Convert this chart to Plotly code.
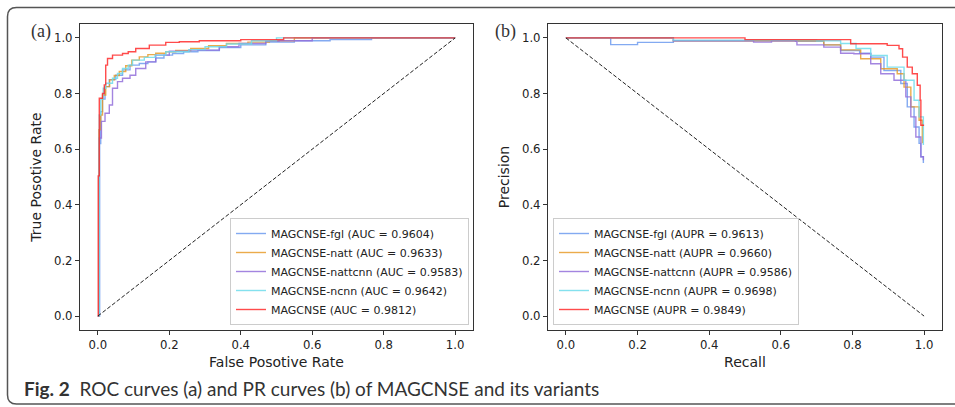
import plotly.graph_objects as go

W, H = 955, 407

# ---------------- ROC data ----------------
roc_fgl_fpr = [0, 0.005, 0.005, 0.008, 0.013, 0.02, 0.032, 0.05, 0.069, 0.09, 0.116, 0.14, 0.162, 0.185, 0.209, 0.24, 0.28, 0.34, 0.40, 0.47, 0.55, 0.65, 0.766, 0.77, 1.0]
roc_fgl_tpr = [0, 0.0, 0.125, 0.62, 0.735, 0.78, 0.825, 0.85, 0.866, 0.885, 0.902, 0.908, 0.914, 0.928, 0.938, 0.944, 0.95, 0.955, 0.965, 0.975, 0.985, 0.99, 0.994, 1.0, 1.0]

roc_natt_fpr = [0, 0.003, 0.003, 0.008, 0.013, 0.022, 0.033, 0.046, 0.06, 0.078, 0.095, 0.116, 0.14, 0.162, 0.19, 0.218, 0.26, 0.31, 0.36, 0.42, 0.48, 0.55, 0.62, 1.0]
roc_natt_tpr = [0, 0.0, 0.6, 0.67, 0.723, 0.795, 0.825, 0.849, 0.865, 0.879, 0.9, 0.92, 0.932, 0.94, 0.945, 0.95, 0.955, 0.962, 0.972, 0.98, 0.985, 0.99, 1.0, 1.0]

roc_nattcnn_fpr = [0, 0.004, 0.004, 0.01, 0.02, 0.032, 0.041, 0.055, 0.069, 0.09, 0.106, 0.134, 0.162, 0.2, 0.255, 0.31, 0.34, 0.395, 0.47, 0.507, 0.6, 0.75, 1.0]
roc_nattcnn_tpr = [0, 0.0, 0.3, 0.64, 0.70, 0.729, 0.759, 0.819, 0.843, 0.855, 0.866, 0.89, 0.914, 0.938, 0.952, 0.956, 0.956, 0.968, 0.98, 0.988, 0.99, 1.0, 1.0]

roc_ncnn_fpr = [0, 0.004, 0.004, 0.008, 0.015, 0.022, 0.041, 0.055, 0.069, 0.085, 0.097, 0.13, 0.16, 0.19, 0.255, 0.3, 0.36, 0.43, 0.5, 0.6, 1.0]
roc_ncnn_tpr = [0, 0.0, 0.5, 0.723, 0.78, 0.819, 0.837, 0.855, 0.872, 0.89, 0.902, 0.92, 0.93, 0.938, 0.95, 0.958, 0.968, 0.978, 0.99, 1.0, 1.0]

roc_main_fpr = [0, 0.001, 0.001, 0.004, 0.004, 0.013, 0.018, 0.022, 0.027, 0.041, 0.069, 0.085, 0.106, 0.144, 0.19, 0.228, 0.284, 0.40, 0.52, 0.527, 1.0]
roc_main_tpr = [0, 0.0, 0.504, 0.504, 0.747, 0.783, 0.80, 0.831, 0.902, 0.926, 0.938, 0.944, 0.95, 0.962, 0.974, 0.984, 0.986, 0.99, 0.994, 1.0, 1.0]

# ---------------- PR data ----------------
pr_fgl_rec = [0, 0.125, 0.125, 0.2, 0.3, 0.45, 0.6, 0.65, 0.72, 0.767, 0.82, 0.851, 0.888, 0.935, 0.953, 0.972, 0.986, 0.991, 0.998]
pr_fgl_prec = [1.0, 1.0, 0.976, 0.984, 0.99, 0.99, 0.99, 0.988, 0.975, 0.955, 0.945, 0.931, 0.883, 0.836, 0.752, 0.68, 0.621, 0.573, 0.55]

pr_natt_rec = [0, 0.3, 0.3, 0.65, 0.72, 0.767, 0.823, 0.879, 0.925, 0.944, 0.963, 0.986, 0.995]
pr_natt_prec = [1.0, 1.0, 0.99, 0.99, 0.975, 0.957, 0.925, 0.889, 0.871, 0.823, 0.752, 0.704, 0.621]

pr_nattcnn_rec = [0, 0.3, 0.3, 0.52, 0.524, 0.57, 0.574, 0.641, 0.645, 0.72, 0.767, 0.804, 0.851, 0.879, 0.916, 0.949, 0.963, 0.977, 0.991, 0.998]
pr_nattcnn_prec = [1.0, 1.0, 0.99, 0.99, 0.985, 0.985, 0.99, 0.988, 0.975, 0.967, 0.945, 0.943, 0.907, 0.871, 0.848, 0.788, 0.716, 0.644, 0.573, 0.56]

pr_ncnn_rec = [0, 0.3, 0.3, 0.7, 0.767, 0.81, 0.851, 0.897, 0.944, 0.972, 0.986, 0.998]
pr_ncnn_prec = [1.0, 1.0, 0.992, 0.99, 0.98, 0.962, 0.937, 0.895, 0.848, 0.776, 0.716, 0.615]

pr_main_rec = [0, 0.50, 0.50, 0.74, 0.795, 0.897, 0.93, 0.94, 0.953, 0.967, 0.981, 0.989, 0.991, 1.0]
pr_main_prec = [1.0, 1.0, 0.994, 0.994, 0.979, 0.973, 0.961, 0.931, 0.895, 0.871, 0.83, 0.776, 0.686, 0.686]

names = ["MAGCNSE-fgl", "MAGCNSE-natt", "MAGCNSE-nattcnn", "MAGCNSE-ncnn", "MAGCNSE"]
auc_vals = ["0.9604", "0.9633", "0.9583", "0.9642", "0.9812"]
aupr_vals = ["0.9613", "0.9660", "0.9586", "0.9698", "0.9849"]
colors = ["rgba(100,149,237,0.8)", "rgba(230,150,30,0.8)", "rgba(147,112,219,0.85)",
          "rgba(110,220,235,0.85)", "rgba(255,30,30,0.8)"]
ticks = [0.0, 0.2, 0.4, 0.6, 0.8, 1.0]
tick_text = ["0.0", "0.2", "0.4", "0.6", "0.8", "1.0"]

roc_x = [roc_fgl_fpr, roc_natt_fpr, roc_nattcnn_fpr, roc_ncnn_fpr, roc_main_fpr]
roc_y = [roc_fgl_tpr, roc_natt_tpr, roc_nattcnn_tpr, roc_ncnn_tpr, roc_main_tpr]
pr_x = [pr_fgl_rec, pr_natt_rec, pr_nattcnn_rec, pr_ncnn_rec, pr_main_rec]
pr_y = [pr_fgl_prec, pr_natt_prec, pr_nattcnn_prec, pr_ncnn_prec, pr_main_prec]

fig = go.Figure()

for i in range(5):
    fig.add_trace(go.Scatter(x=roc_x[i], y=roc_y[i], mode="lines",
                             line=dict(color=colors[i], width=1.4, shape="vh"),
                             name=f"{names[i]} (AUC = {auc_vals[i]})",
                             xaxis="x", yaxis="y", legend="legend"))
fig.add_trace(go.Scatter(x=[0, 1], y=[0, 1], mode="lines",
                         line=dict(color="#222", width=1, dash="4px,2px"),
                         showlegend=False, xaxis="x", yaxis="y"))

for i in range(5):
    fig.add_trace(go.Scatter(x=pr_x[i], y=pr_y[i], mode="lines",
                             line=dict(color=colors[i], width=1.4, shape="hv"),
                             name=f"{names[i]} (AUPR = {aupr_vals[i]})",
                             xaxis="x2", yaxis="y2", legend="legend2"))
fig.add_trace(go.Scatter(x=[0, 1], y=[1, 0], mode="lines",
                         line=dict(color="#222", width=1, dash="4px,2px"),
                         showlegend=False, xaxis="x2", yaxis="y2"))

def px(x):
    return x / W

def py(y):
    return (H - y) / H

tickfont = dict(family="DejaVu Sans", size=11.7, color="#222")
titlefont = dict(family="DejaVu Sans", size=14, color="#222")
axis_common = dict(range=[-0.05, 1.05], tickvals=ticks, ticktext=tick_text,
                   showgrid=False, zeroline=False, showline=True, mirror=True,
                   linecolor="#333", linewidth=1.2, ticks="outside", ticklen=4,
                   tickcolor="#333", tickfont=tickfont)

ydom = [py(330), py(24)]
legend_common = dict(bgcolor="rgba(255,255,255,0.85)", bordercolor="#cccccc", borderwidth=1,
                     font=dict(family="DejaVu Sans", size=11, color="#222"),
                     tracegroupgap=0, itemwidth=30)
fig.update_layout(
    width=W, height=H, margin=dict(l=0, r=0, t=0, b=0),
    paper_bgcolor="white", plot_bgcolor="white",
    xaxis=dict(domain=[px(80), px(473)], anchor="y",
               title=dict(text="False Posotive Rate", font=titlefont, standoff=6), **axis_common),
    yaxis=dict(domain=ydom, anchor="x",
               title=dict(text="True Posotive Rate", font=titlefont, standoff=9), **axis_common),
    xaxis2=dict(domain=[px(548), px(942)], anchor="y2",
                title=dict(text="Recall", font=titlefont, standoff=6), **axis_common),
    yaxis2=dict(domain=ydom, anchor="x2",
                title=dict(text="Precision", font=titlefont, standoff=9), **axis_common),
    legend=dict(x=px(469), y=py(325), xanchor="right", yanchor="bottom", **legend_common),
    legend2=dict(x=px(553), y=py(325), xanchor="left", yanchor="bottom", **legend_common),
    showlegend=True,
)

# panel labels
fig.add_annotation(text="(a)", x=px(53), y=py(31), xref="paper", yref="paper",
                   xanchor="right", yanchor="middle",
                   showarrow=False, font=dict(family="Liberation Serif", size=18, color="#333"))
fig.add_annotation(text="(b)", x=px(518), y=py(31), xref="paper", yref="paper",
                   xanchor="right", yanchor="middle",
                   showarrow=False, font=dict(family="Liberation Serif", size=18, color="#333"))

# caption
fig.add_annotation(text="<b>Fig. 2</b>  ROC curves (a) and PR curves (b) of MAGCNSE and its variants",
                   x=px(22), y=py(388), xref="paper", yref="paper", xanchor="left", yanchor="middle",
                   showarrow=False, font=dict(family="Lato", size=19, color="#333"))

# rounded frame
r = 9
x0, y0, x1, y1 = 7.5, 7.5, 970, 404
def P(x, y):
    return f"{px(x):.5f},{py(y):.5f}"
path = (f"M {P(x0 + r, y0)} L {P(x1, y0)} M {P(x0 + r, y0)} Q {P(x0, y0)} {P(x0, y0 + r)} "
        f"L {P(x0, y1 - r)} Q {P(x0, y1)} {P(x0 + r, y1)} L {P(x1, y1)}")
fig.add_shape(type="path", path=path, xref="paper", yref="paper",
              line=dict(color="#555", width=1.5))

fig.write_html("out.html")
